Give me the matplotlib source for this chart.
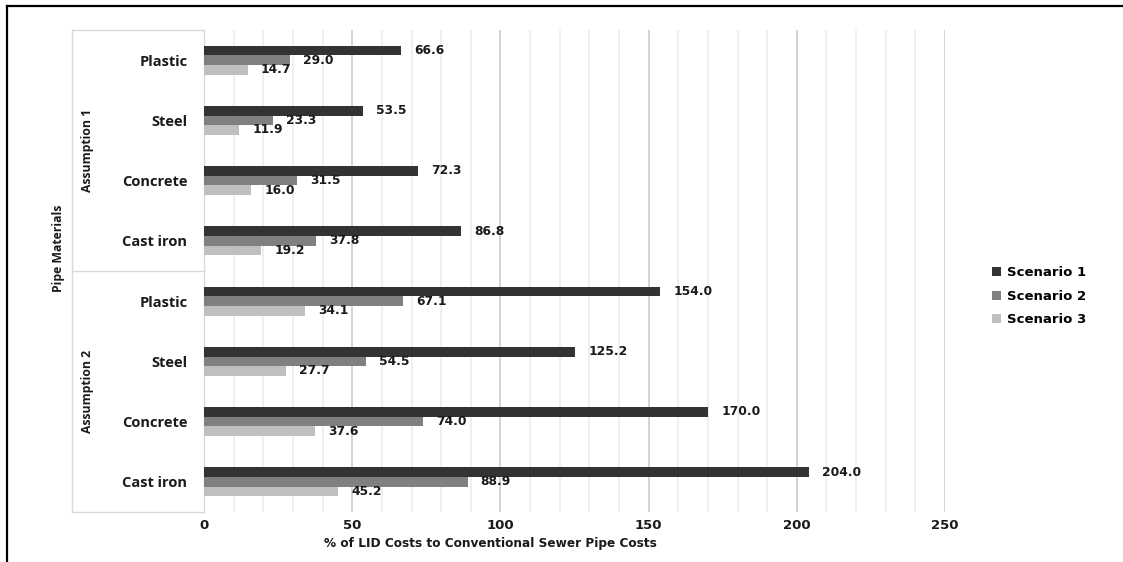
import numpy as np
import matplotlib
matplotlib.use("Agg")
import matplotlib.pyplot as plt
from matplotlib.lines import Line2D
from matplotlib.patches import Patch

# --- data (top to bottom as drawn) ---
GROUPS = ["Assumption 1", "Assumption 2"]
MATERIALS = ["Plastic", "Steel", "Concrete", "Cast iron"]
SERIES = ["Scenario 1", "Scenario 2", "Scenario 3"]
scenario1 = [66.6, 53.5, 72.3, 86.8, 154.0, 125.2, 170.0, 204.0]
scenario2 = [29.0, 23.3, 31.5, 37.8, 67.1, 54.5, 74.0, 88.9]
scenario3 = [14.7, 11.9, 16.0, 19.2, 34.1, 27.7, 37.6, 45.2]
XTICKS = [0, 50, 100, 150, 200, 250]

# --- style ---
COLORS = ["#333333", "#808080", "#bfbfbf"]
BAR_H = 0.16
NUM_FONT = "DejaVu Sans"
CAT_FONT = "Open Sans"
TXT = "#1a1a1a"

fig = plt.figure(figsize=(11.23, 5.62), dpi=100)
ax = fig.add_axes([0.1817, 0.0890, 0.6598, 0.8577])

labels = MATERIALS * len(GROUPS)
y = np.arange(len(labels))
values = [scenario1, scenario2, scenario3]
offsets = [-BAR_H, 0.0, BAR_H]

for vals, off, col, name in zip(values, offsets, COLORS, SERIES):
    ax.barh(y + off, vals, height=BAR_H, color=col, label=name, zorder=3)
    for yi, v in zip(y, vals):
        ax.annotate(f"{v:.1f}", (v, yi + off), xytext=(9.5, 0), textcoords="offset points",
                    ha="left", va="center", fontsize=8.8, fontweight="bold",
                    family=NUM_FONT, color=TXT)

ax.set_xlim(0, 250)
ax.set_ylim(len(labels) - 0.5, -0.5)

# grid: light minor every 10, darker major every 50
ax.set_xticks(XTICKS)
ax.set_xticks(np.arange(0, 251, 10), minor=True)
ax.grid(axis="x", which="minor", color="#ebebeb", linewidth=1.1, zorder=0)
ax.grid(axis="x", which="major", color="#cccccc", linewidth=1.2, zorder=0)
ax.tick_params(axis="x", which="both", length=0, pad=5)
for lab in ax.get_xticklabels():
    lab.set_fontweight("bold")
    lab.set_fontsize(9.5)
    lab.set_family(NUM_FONT)
    lab.set_color(TXT)

ax.set_yticks(y)
ax.set_yticklabels(labels, fontsize=10.5, fontweight="bold", family=CAT_FONT, color=TXT)
ax.tick_params(axis="y", length=0, pad=12)

for s in ax.spines.values():
    s.set_visible(False)

ax.set_xlabel("% of LID Costs to Conventional Sewer Pipe Costs", fontsize=8.7,
              fontweight="bold", family=NUM_FONT, color=TXT)
ax.xaxis.set_label_coords(0.387, -0.052)

# category box on the left
bx = -0.178
box_kw = dict(transform=ax.transAxes, clip_on=False, color="#d9d9d9", linewidth=1.0)
ax.plot([bx, 0], [1, 1], **box_kw)
ax.plot([bx, 0], [0, 0], **box_kw)
ax.plot([bx, 0], [0.5, 0.5], **box_kw)
ax.plot([bx, bx], [0, 1], **box_kw)
ax.plot([0, 0], [0, 1], **box_kw)

side_kw = dict(rotation=90, transform=ax.transAxes, ha="center", va="center",
               fontsize=8.8, family=CAT_FONT, fontweight="bold", color=TXT)
ax.text(-0.157, 0.75, GROUPS[0], **side_kw)
ax.text(-0.157, 0.25, GROUPS[1], **side_kw)
ax.text(-0.197, 0.548, "Pipe Materials", **side_kw)

# legend
handles = [Patch(facecolor=c, edgecolor="none") for c in COLORS]
fig.legend(handles, SERIES, loc="center left", bbox_to_anchor=(0.883, 0.473),
           frameon=False, borderpad=0, borderaxespad=0, handlelength=0.68,
           handleheight=0.68, handletextpad=0.45, labelspacing=0.78,
           prop=dict(family=NUM_FONT, weight="bold", size=9.5))

# outer frame (top and left edges visible)
fig.add_artist(Line2D([0.0062, 1.0], [0.989, 0.989], transform=fig.transFigure,
                      color="black", linewidth=1.6))
fig.add_artist(Line2D([0.0062, 0.0062], [0.0, 0.989], transform=fig.transFigure,
                      color="black", linewidth=1.6))

fig.savefig("out.png", dpi=100)
